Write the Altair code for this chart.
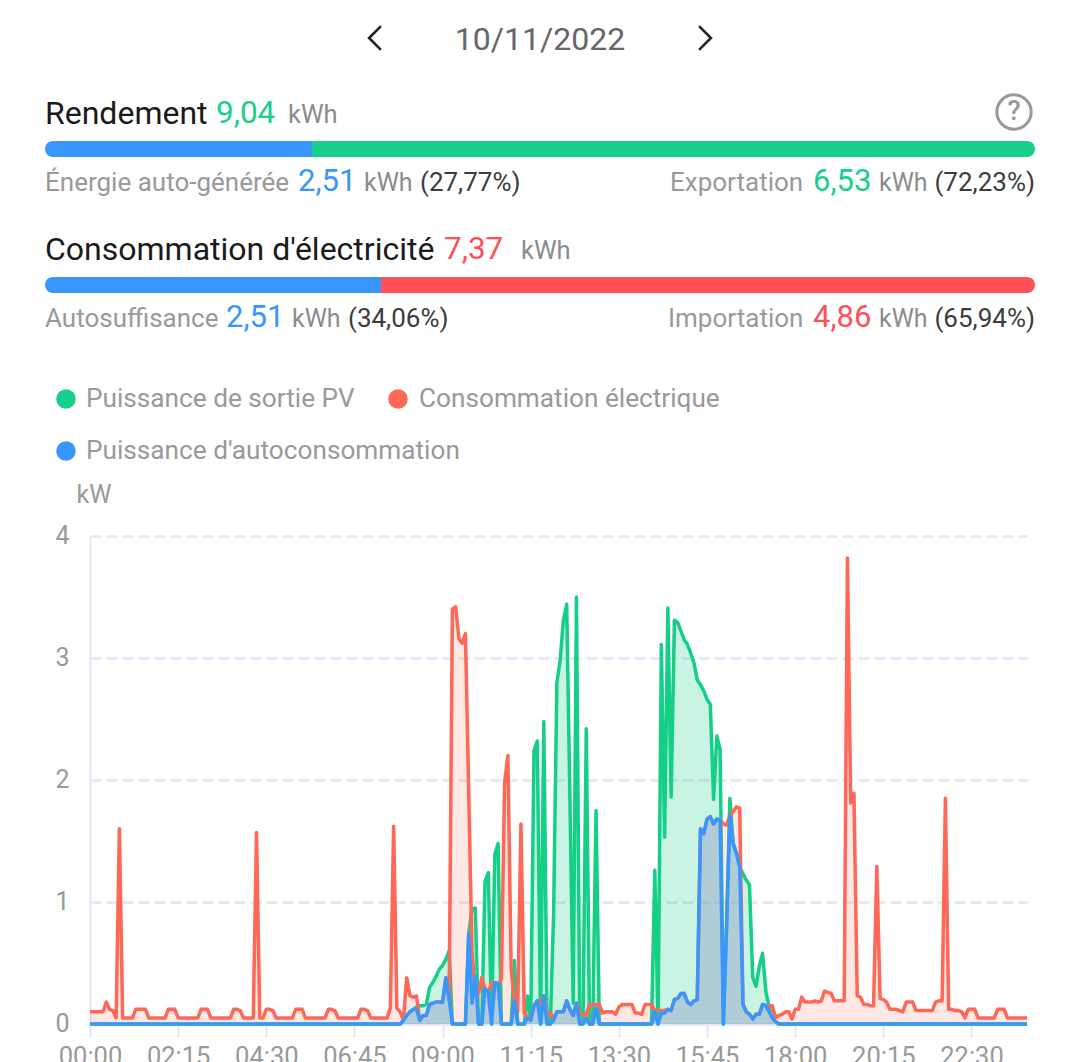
import altair as alt
import pandas as pd

red_kw = [
 .1,.1,.1,.1,.1,.18,.12,.11,.05,1.6,
 .05,.05,.05,.05,.12,.12,.12,.12,.05,.05,
 .05,.05,.05,.05,.12,.12,.12,.05,.05,.05,
 .05,.05,.05,.05,.12,.12,.12,.05,.05,.05,
 .05,.05,.05,.05,.12,.12,.11,.05,.05,.05,
 .05,1.57,.05,.05,.12,.12,.11,.05,.05,.05,
 .05,.05,.05,.12,.12,.12,.05,.05,.05,.05,
 .05,.05,.05,.12,.12,.11,.05,.05,.05,.05,
 .05,.05,.05,.12,.12,.11,.05,.05,.05,.05,
 .05,.05,.13,1.62,.13,.1,.03,.38,.23,.22,
 .23,.03,.07,.07,.16,.17,.18,.18,.18,.38,
 .2,3.4,3.42,3.16,3.12,3.2,1.9,.6,.25,.25,
 .38,.29,.26,.34,.34,.33,.37,1.98,2.2,.45,
 .19,.1,1.64,.09,.06,.05,.15,.19,.17,.23,
 .09,.09,.05,.1,.1,.1,.19,.12,.07,.17,
 .09,.08,.08,.16,.16,.16,.16,.09,.1,.1,
 .1,.08,.14,.16,.16,.16,.16,.09,.09,.08,
 .16,.16,.16,.11,.11,.11,.11,.12,.11,.2,
 .21,.25,.25,.18,.16,.19,.2,1.6,1.56,1.68,
 1.7,1.64,1.68,1.67,1.64,1.63,1.71,1.74,1.78,1.77,
 .16,.1,.08,.04,.08,.08,.16,.15,.15,.15,
 .05,.07,.08,.1,.1,.04,.12,.12,.22,.18,
 .18,.18,.19,.18,.19,.27,.26,.25,.19,.19,
 .19,.19,3.82,1.81,1.89,.23,.22,.16,.16,.15,
 .15,1.29,.21,.2,.18,.12,.12,.12,.11,.1,
 .18,.18,.18,.11,.11,.11,.11,.11,.11,.18,
 .19,.19,1.85,.12,.12,.11,.11,.1,.05,.12,
 .12,.12,.05,.05,.05,.05,.05,.05,.12,.12,
 .12,.05,.05,.05,.05,.05,.05,.05,
]
green_kw = [0]*96 + [
 .03,.07,.1,.12,
 .14,.15,.15,.16,.3,.34,.39,.45,.48,.53,
 .6,0,0,0,0,0,.74,.94,.95,0,
 0,1.17,1.24,0,1.39,1.48,0,0,0,0,
 .52,0,0,0,.23,.03,2.24,2.32,0,2.48,
 0,0,.9,2.8,2.98,3.31,3.44,1.84,.17,3.5,
 0,0,2.42,0,0,1.75,0,0,0,0,
 0,0,0,0,0,0,0,0,0,0,
 0,0,0,1.26,0,3.11,1.53,3.41,1.86,3.31,
 3.29,3.22,3.15,3.11,3.04,2.96,2.82,2.78,2.73,2.66,
 2.62,1.84,2.36,2.25,0,.82,1.85,1.48,1.4,1.29,
 1.23,1.18,1.14,.38,.31,.47,.58,.27,.14,.05,
 .02,
] + [0]*77
blue_kw = [0]*96 + [
 .03,.07,.1,.12,
 .12,.03,.07,.07,.16,.17,.18,.18,.18,.38,
 .2,0,0,0,0,0,.74,.17,.39,0,
 0,.29,.26,0,.34,.33,0,0,0,0,
 .19,0,0,0,.05,.03,.15,.19,0,.23,
 0,0,.03,.1,.1,.1,.19,.12,.07,.17,
 0,0,.05,0,0,.13,0,0,0,0,
 0,0,0,0,0,0,0,0,0,0,
 0,0,0,.1,0,.09,.09,.12,.11,.2,
 .21,.25,.25,.18,.16,.19,.2,1.6,1.56,1.68,
 1.7,1.64,1.68,1.67,0,.82,1.71,1.48,1.4,1.29,
 .16,.1,.08,.04,.08,.08,.16,.15,.1,.05,
 .02,
] + [0]*77
times = [f"{i*5//60:02d}:{i*5%60:02d}" for i in range(288)]
tick_labels = ["00:00","02:15","04:30","06:45","09:00","11:15","13:30","15:45","18:00","20:15","22:30"]
yield_shares = [0, 26.97, 100]
use_shares = [0, 33.94, 100]

assert len(red_kw) == len(green_kw) == len(blue_kw) == 288, (len(red_kw), len(green_kw), len(blue_kw))

GREEN, RED, BLUE = "#16CF87", "#FF6757", "#3A96FF"
BAR_GREEN, BAR_RED = "#19D08A", "#FF5058"
FONT = "Roboto"
X0, Y0 = 90, 536
W, H = 937, 488
AXIS = "#E3E6F7"

df = pd.DataFrame({"t": times, "green": green_kw, "red": red_kw, "blue": blue_kw})
x_scale = alt.Scale(type="point", padding=0, domain=times)
y_scale = alt.Scale(domain=[0, 4], nice=False)

x_axis = alt.X("t:O", scale=x_scale, title=None, axis=alt.Axis(
    values=tick_labels, labelAngle=0, labelFont=FONT, labelFontSize=25.5, labelColor="#999999",
    labelPadding=7, tickColor=AXIS, tickWidth=2, tickSize=13, domainColor=AXIS, domainWidth=2,
    labelOverlap=False, grid=False, labelBound=False, labelFlush=False, orient="bottom"))
y_axis = alt.Y("v:Q", scale=y_scale, title=None, axis=alt.Axis(
    values=[0,1,2,3,4], labelFont=FONT, labelFontSize=25, labelColor="#999999", labelPadding=21,
    labelOffset=-1, tickSize=0, domainColor=AXIS, domainWidth=2, grid=True, gridColor=AXIS,
    gridWidth=2.4, gridDash=[11,5], format="d", orient="left"))

base = alt.Chart(df)
def series(col, color, fill_opacity, axes=False):
    xe = x_axis if axes else alt.X("t:O", scale=x_scale, axis=None)
    ye = y_axis if axes else alt.Y("v:Q", scale=y_scale, axis=None)
    b = base.transform_calculate(v=f"datum.{col}")
    return [
        b.mark_area(color=color, opacity=fill_opacity, interpolate="linear").encode(x=xe, y=ye),
        b.mark_line(color=color, strokeWidth=3.5, interpolate="linear", strokeJoin="round").encode(
            x=alt.X("t:O", scale=x_scale, axis=None), y=alt.Y("v:Q", scale=y_scale, axis=None)),
    ]
plot_layers = series("green", GREEN, 0.23, axes=True) + series("red", RED, 0.16) + series("blue", BLUE, 0.22)

one = alt.Data(values=[{"a": 1}])
def txt(x, y, s, size, color, align="left", weight="normal"):
    return alt.Chart(one).mark_text(font=FONT, fontSize=size, align=align, baseline="middle",
                                    fontWeight=weight, color=color, clip=False).encode(
        x=alt.value(x - X0), y=alt.value(y - Y0), text=alt.value(s))
def dot(x, y, color):
    return alt.Chart(one).mark_point(shape="circle", filled=True, size=380, color=color, opacity=1).encode(
        x=alt.value(x - X0), y=alt.value(y - Y0))
def chevron(x, y, shape):
    return alt.Chart(one).mark_point(shape=shape, filled=False, size=560, stroke="#222222", strokeWidth=2.6,
                                     opacity=1).encode(x=alt.value(x - X0), y=alt.value(y - Y0))
pct = alt.Scale(domain=[0, 100], range=[45 - X0, 1035 - X0])
def seg(start, end, y, color, left):
    r = dict(cornerRadiusTopLeft=8, cornerRadiusBottomLeft=8) if left else dict(cornerRadiusTopRight=8, cornerRadiusBottomRight=8)
    d = alt.Data(values=[{"s": start, "e": end}])
    return alt.Chart(d).mark_bar(color=color, **r).encode(
        x=alt.X("s:Q", scale=pct, axis=None), x2="e:Q",
        y=alt.value(y - Y0), y2=alt.value(y + 16 - Y0))

GREY, KWH, DARK = "#999999", "#8C8C8C", "#3C3C3C"
header_layers = [
    seg(yield_shares[0], yield_shares[1], 141, BLUE, True),
    seg(yield_shares[1], yield_shares[2], 141, BAR_GREEN, False),
    seg(use_shares[0], use_shares[1], 277, BLUE, True),
    seg(use_shares[1], use_shares[2], 277, BAR_RED, False),
    chevron(375, 38, "M0.5,-1 L-0.5,0 L0.5,1"),
    chevron(705, 38, "M-0.5,-1 L0.5,0 L-0.5,1"),
    txt(540, 40, "10/11/2022", 32, "#666666", "center"),
    txt(45, 114, "Rendement", 32, "#1A1A1A"),
    txt(216, 114, "9,04", 31.5, BAR_GREEN),
    txt(288, 115, "kWh", 25.5, KWH),
    alt.Chart(one).mark_point(shape="circle", filled=False, size=1180, stroke="#999999", strokeWidth=3, opacity=1).encode(
        x=alt.value(1014 - X0), y=alt.value(112 - Y0)),
    txt(1014, 112, "?", 27, "#999999", "center", 500),
    txt(45, 183, "Énergie auto-générée", 26, GREY),
    txt(298, 182, "2,51", 31, BLUE),
    txt(364, 183, "kWh", 25, KWH),
    txt(420, 183, "(27,77%)", 26, DARK),
    txt(670, 183, "Exportation", 26, GREY),
    txt(813, 182, "6,53", 31, BAR_GREEN),
    txt(879, 183, "kWh", 25, KWH),
    txt(1035, 183, "(72,23%)", 26, DARK, "right"),
    txt(45, 250, "Consommation d'électricité", 32, "#1A1A1A"),
    txt(444, 250, "7,37", 31.5, BAR_RED),
    txt(521, 251, "kWh", 25.5, KWH),
    txt(45, 319, "Autosuffisance", 26, GREY),
    txt(226, 318, "2,51", 31, BLUE),
    txt(292, 319, "kWh", 25, KWH),
    txt(348, 319, "(34,06%)", 26, DARK),
    txt(668, 319, "Importation", 26, GREY),
    txt(813, 318, "4,86", 31, BAR_RED),
    txt(879, 319, "kWh", 25, KWH),
    txt(1035, 319, "(65,94%)", 26, DARK, "right"),
    dot(66, 399, BAR_GREEN),
    txt(86, 399, "Puissance de sortie PV", 26.2, GREY),
    dot(398, 399, RED),
    txt(419, 399, "Consommation électrique", 26.2, GREY),
    dot(66, 451, BLUE),
    txt(86, 451, "Puissance d'autoconsommation", 26.2, GREY),
    txt(94, 495, "kW", 25, GREY, "center"),
]

chart = alt.layer(*plot_layers, *header_layers).resolve_scale(x="independent", y="independent").properties(
    width=W, height=H,
    autosize=alt.AutoSizeParams(type="none"),
    padding={"left": 82, "top": 528, "right": 36, "bottom": 38},
).configure_view(stroke=None)

chart.save("out.html", embed_options={"renderer": "svg", "actions": False})
